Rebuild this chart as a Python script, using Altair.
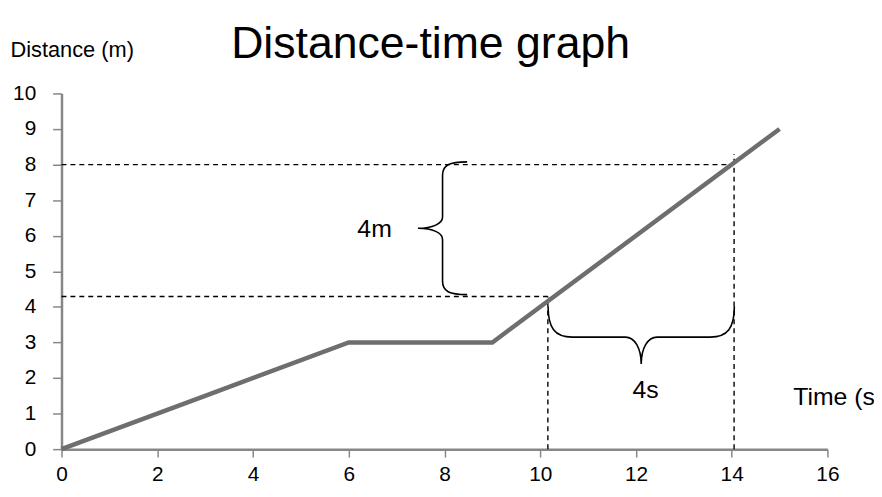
import altair as alt
import pandas as pd

# ---- data ----
time_s = [0, 2, 3, 6, 9, 15]
distance_m = [0, 1, 1.5, 3, 3, 9]

guide_x1 = [0, 0, 10.16, 14.05]
guide_x2 = [14.05, 10.16, 10.16, 14.05]
guide_y1 = [8, 4.29, 0, 0]
guide_y2 = [8, 4.29, 4.29, 8.3]

brace_names = ["distance", "time"]
brace_x = [7.96, 12.11]
brace_y = [6.21, 3.15]

label_text = ["4m", "4s"]
label_x = [6.54, 12.2]
label_y = [6.2, 1.67]

x_ticks = [0, 2, 4, 6, 8, 10, 12, 14, 16]
y_ticks = [0, 1, 2, 3, 4, 5, 6, 7, 8, 9, 10]

FONT = "Liberation Sans"
AXIS_GREY = "#878787"

line_df = pd.DataFrame({"x": time_s, "y": distance_m})
guide_df = pd.DataFrame({"x": guide_x1, "x2": guide_x2, "y": guide_y1, "y2": guide_y2})
label_df = pd.DataFrame({"x": label_x, "y": label_y, "t": label_text})
vb_df = pd.DataFrame({"x": [brace_x[0]], "y": [brace_y[0]]})
hb_df = pd.DataFrame({"x": [brace_x[1]], "y": [brace_y[1]]})

xs = alt.Scale(domain=[0, 16], nice=False, zero=False)
ys = alt.Scale(domain=[0, 10], nice=False, zero=False)

x_axis = alt.Axis(
    values=x_ticks, grid=False, format="d",
    domainColor=AXIS_GREY, domainWidth=2.5, tickColor=AXIS_GREY, tickWidth=1.5,
    tickSize=8, labelPadding=7, labelFontSize=21, labelFont=FONT, labelColor="black",
    titleX=738, titleY=-53, titleAlign="left", titleBaseline="middle", titleAngle=0,
    titleFont=FONT, titleFontSize=25, titleFontWeight="normal", titleColor="black",
    labelFlush=False, labelOverlap=False)
y_axis = alt.Axis(
    values=y_ticks, grid=False, format="d",
    domainColor=AXIS_GREY, domainWidth=2.5, tickColor=AXIS_GREY, tickWidth=1.5,
    tickSize=9, labelPadding=17, labelFontSize=21, labelFont=FONT, labelColor="black",
    titleX=-52, titleY=-44, titleAlign="left", titleBaseline="middle", titleAngle=0,
    titleFont=FONT, titleFontSize=22, titleFontWeight="normal", titleColor="black",
    labelFlush=False, labelOverlap=False)


def X(field="x"):
    return alt.X(f"{field}:Q", scale=xs, axis=x_axis, title="Time (s)")


def Y(field="y"):
    return alt.Y(f"{field}:Q", scale=ys, axis=y_axis, title="Distance (m)")


# brace outlines (unit symbol shapes in -1..1 box)
V_BRACE = ("M0.37,-1 C0.1,-1 0,-0.95 0,-0.8 L0,-0.17 C0,-0.07 -0.15,0 -0.37,0 "
           "C-0.15,0 0,0.07 0,0.17 L0,0.8 C0,0.95 0.1,1 0.37,1")
H_BRACE = ("M-1,-0.33 C-1,-0.1 -0.93,0 -0.74,0 L-0.17,0 C-0.07,0 0,0.12 0,0.29 "
           "C0,0.12 0.07,0 0.17,0 L0.74,0 C0.93,0 1,-0.1 1,-0.33")

guides = alt.Chart(guide_df).mark_rule(
    color="black", strokeWidth=1.4, strokeDash=[5, 4]
).encode(x=X(), x2="x2:Q", y=Y(), y2="y2:Q")

vbrace = alt.Chart(vb_df).mark_point(
    shape=V_BRACE, size=134 * 134, filled=False, color="black", strokeWidth=1.6, opacity=1
).encode(x=X(), y=Y())

hbrace = alt.Chart(hb_df).mark_point(
    shape=H_BRACE, size=188 * 188, filled=False, color="black", strokeWidth=1.6, opacity=1
).encode(x=X(), y=Y())

line = alt.Chart(line_df).mark_line(
    color="#6e6e6e", strokeWidth=4.5, strokeCap="butt"
).encode(x=X(), y=Y())

labels = alt.Chart(label_df).mark_text(
    font=FONT, fontSize=25, color="black", align="center", baseline="middle"
).encode(x=X(), y=Y(), text="t:N")

chart = alt.layer(guides, vbrace, hbrace, line, labels).properties(
    width=773,
    height=359,
    padding={"left": 54, "top": 84, "right": 47, "bottom": 38},
    autosize=alt.AutoSizeParams(type="none"),
    title=alt.TitleParams(
        "Distance-time graph", font=FONT, fontSize=45, fontWeight="normal",
        color="black", anchor="middle", dx=-14, dy=38, offset=10,
    ),
).configure(background="white", view=alt.ViewConfig(strokeOpacity=0, strokeWidth=0))

chart.save("out.html", embed_options={"renderer": "svg", "actions": False})
